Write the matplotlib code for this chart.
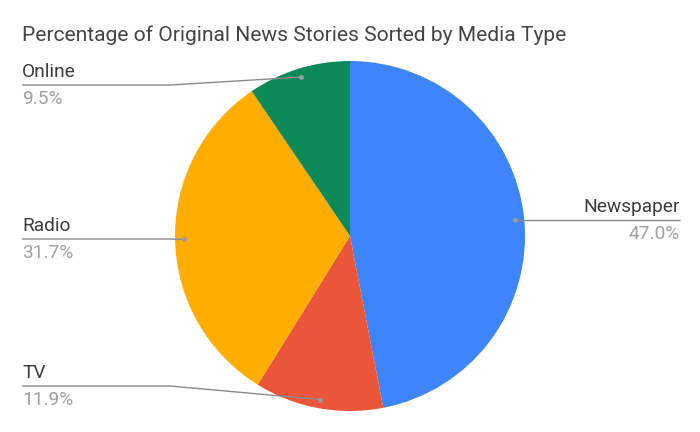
import numpy as np
import matplotlib
matplotlib.use("Agg")
import matplotlib.pyplot as plt

labels = ["Newspaper", "TV", "Radio", "Online"]
shares = [47.0, 11.9, 31.7, 9.5]
colors = ["#3E84FB", "#EB553A", "#FFAE00", "#0B8A57"]
title = "Percentage of Original News Stories Sorted by Media Type"

plt.rcParams["font.family"] = ["Roboto", "DejaVu Sans"]

W, H = 700, 432
fig = plt.figure(figsize=(7, 4.32), dpi=100)
ax = fig.add_axes([0, 0, 1, 1])

cx, cy, r = 350, H - 236, 175
wedges, _ = ax.pie(shares, colors=colors, startangle=90, counterclock=False,
                   center=(cx, cy), radius=r, frame=True,
                   wedgeprops=dict(linewidth=0))
ax.set_xlim(0, W)
ax.set_ylim(0, H)
ax.set_aspect("equal")
ax.axis("off")

# label row heights (pixels from top) and side
rows = {"Newspaper": (220, "right"), "TV": (386, "left"),
        "Radio": (239, "left"), "Online": (85, "left")}
line_c = "#8a8a8a"
for w, lab, val in zip(wedges, labels, shares):
    ang = np.deg2rad((w.theta1 + w.theta2) / 2)
    px = cx + 0.95 * r * np.cos(ang)
    py = cy + 0.95 * r * np.sin(ang)
    yrow, side = rows[lab]
    ly = H - yrow
    if side == "left":
        x0, xk = 22, 170
        xs = [x0, min(xk, px), px]
        ys = [ly, ly, py]
        tx, ha = x0, "left"
    else:
        x0 = 680
        xs = [px, x0]
        ys = [ly, ly]
        tx, ha = x0, "right"
    ax.plot(xs, ys, color=line_c, lw=1, solid_capstyle="butt")
    ax.plot([px], [py], "o", ms=3.5, color="#9a9a9a", mec="none")
    ax.text(tx, ly + 4, lab, ha=ha, va="bottom", fontsize=13.8, color="#3c3c3c")
    ax.text(tx, ly - 5, f"{val:.1f}%", ha=ha, va="top", fontsize=13.8, color="#a0a0a0")

fig.text(22 / W, 1 - 35 / H, title, ha="left", va="center", fontsize=15.1, color="#444444")

fig.savefig("out.png", dpi=100, facecolor="white")
